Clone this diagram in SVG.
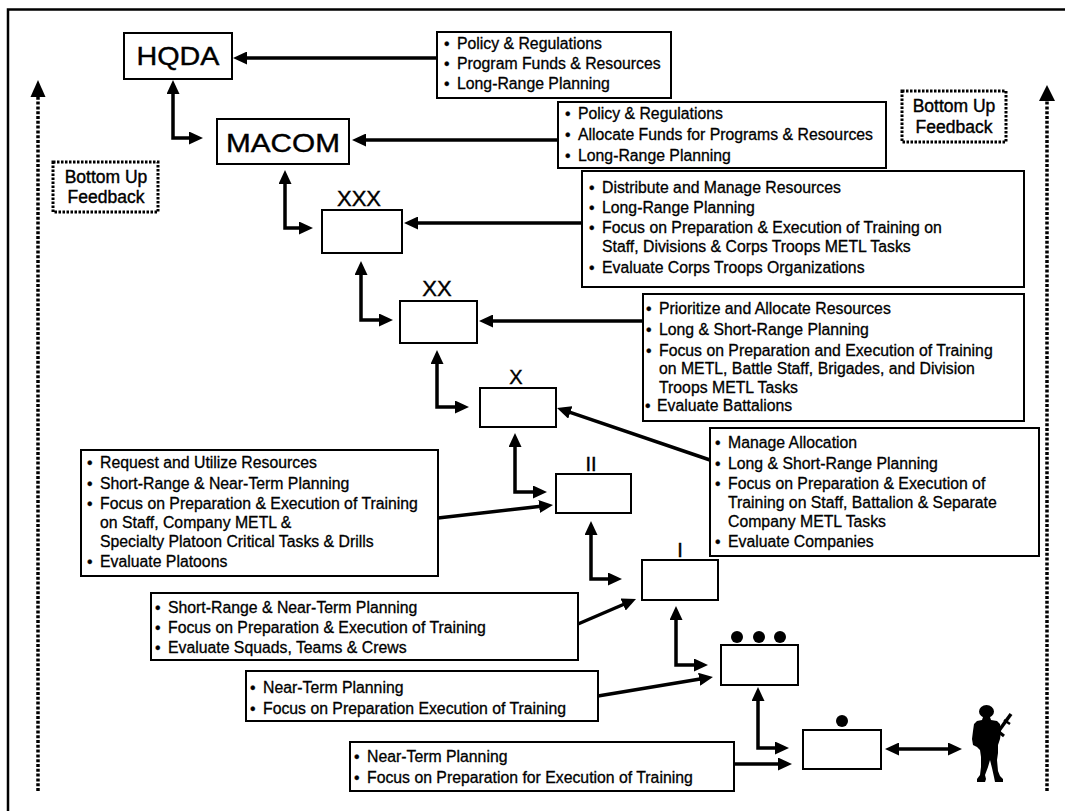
<svg xmlns="http://www.w3.org/2000/svg" width="1065" height="811" viewBox="0 0 1065 811">
<style>
.box{fill:#fff;stroke:#000;stroke-width:2}
.t{font-family:"Liberation Sans",Arial,Helvetica,sans-serif;font-size:15.8px;fill:#000;stroke:#000;stroke-width:0.3px}
.lbl{font-family:"Liberation Sans",Arial,Helvetica,sans-serif;fill:#000;text-anchor:middle;stroke:#000;stroke-width:0.4px}
.conn{fill:none;stroke:#000;stroke-width:3.5}
.fb{fill:#fff;stroke:#000;stroke-width:3;stroke-dasharray:2.5 1.5}
.fbl{fill:none;stroke:#000;stroke-width:3.5;stroke-dasharray:3 1.8}
</style>
<defs>
<marker id="ah" viewBox="0 0 14 13" markerWidth="14" markerHeight="13" refX="4" refY="6.5" orient="auto-start-reverse" markerUnits="userSpaceOnUse">
<path d="M0,0 L14,6.5 L0,13 Z" fill="#000"/>
</marker>
</defs>
<rect x="0" y="0" width="1065" height="811" fill="#fff"/>
<polyline points="8,811 8,9.5 1065,9.5" fill="none" stroke="#000" stroke-width="2.5"/>

<g id="feedback-left">
<line class="fbl" x1="38" y1="791" x2="38" y2="95"/>
<path d="M38,80 L45.5,97 L30.5,97 Z" fill="#000"/>
<rect class="fb" x="53" y="162" width="105" height="50"/>
<text class="lbl" font-size="17.5" x="106" y="183">Bottom Up</text>
<text class="lbl" font-size="17.5" x="106" y="203">Feedback</text>
</g>
<g id="feedback-right">
<line class="fbl" x1="1047" y1="791" x2="1047" y2="99"/>
<path d="M1047,85 L1055,101 L1039,101 Z" fill="#000"/>
<rect class="fb" x="902" y="91" width="104" height="51"/>
<text class="lbl" font-size="17.5" x="954" y="112">Bottom Up</text>
<text class="lbl" font-size="17.5" x="954" y="133">Feedback</text>
</g>

<g id="connectors">
<line class="conn" x1="437" y1="58" x2="243" y2="58" marker-end="url(#ah)"/>
<line class="conn" x1="558" y1="140" x2="362" y2="140" marker-end="url(#ah)"/>
<line class="conn" x1="582" y1="223" x2="414" y2="223" marker-end="url(#ah)"/>
<line class="conn" x1="643" y1="321" x2="489" y2="321" marker-end="url(#ah)"/>
<line class="conn" x1="710" y1="460" x2="566.5" y2="411.2" marker-end="url(#ah)"/>
<line class="conn" x1="438" y1="518" x2="543.1" y2="506.1" marker-end="url(#ah)"/>
<line class="conn" x1="578" y1="624" x2="626.8" y2="603" marker-end="url(#ah)"/>
<line class="conn" x1="598" y1="696" x2="703.1" y2="678.6" marker-end="url(#ah)"/>
<line class="conn" x1="734" y1="764" x2="782" y2="764" marker-end="url(#ah)"/>
<polyline class="conn" points="173,90 173,138 193,138" marker-start="url(#ah)" marker-end="url(#ah)"/>
<polyline class="conn" points="285,180 285,228 303,228" marker-start="url(#ah)" marker-end="url(#ah)"/>
<polyline class="conn" points="361,271 361,320 383,320" marker-start="url(#ah)" marker-end="url(#ah)"/>
<polyline class="conn" points="437,360 437,407 459,407" marker-start="url(#ah)" marker-end="url(#ah)"/>
<polyline class="conn" points="515,443 515,492 537,492" marker-start="url(#ah)" marker-end="url(#ah)"/>
<polyline class="conn" points="591,531 591,579 612,579" marker-start="url(#ah)" marker-end="url(#ah)"/>
<polyline class="conn" points="676,616 676,665 698,665" marker-start="url(#ah)" marker-end="url(#ah)"/>
<polyline class="conn" points="758,697 758,748 779,748" marker-start="url(#ah)" marker-end="url(#ah)"/>
<line class="conn" x1="895" y1="749" x2="952" y2="749" marker-start="url(#ah)" marker-end="url(#ah)"/>
</g>

<g id="n-hqda">
<rect class="box" x="124" y="33" width="108" height="46"/>
<text class="lbl" font-size="26" x="178" y="65" textLength="83" lengthAdjust="spacingAndGlyphs">HQDA</text>
</g>
<g id="n-macom">
<rect class="box" x="217" y="119" width="132" height="45"/>
<text class="lbl" font-size="26" x="283" y="152" textLength="114" lengthAdjust="spacingAndGlyphs">MACOM</text>
</g>
<g id="n-corps">
<rect class="box" x="322" y="210" width="80" height="43"/>
<text class="lbl" font-size="22" x="359" y="206">XXX</text>
</g>
<g id="n-division">
<rect class="box" x="400" y="301" width="77" height="42"/>
<text class="lbl" font-size="22" x="437" y="296">XX</text>
</g>
<g id="n-brigade">
<rect class="box" x="480" y="388" width="76" height="39"/>
<text class="lbl" font-size="20" x="516" y="384">X</text>
</g>
<g id="n-battalion">
<rect class="box" x="556" y="474" width="75" height="39"/>
<text class="lbl" font-size="20" x="591" y="471">II</text>
</g>
<g id="n-company">
<rect class="box" x="642" y="560" width="76" height="40"/>
<text class="lbl" font-size="20" x="680" y="557">I</text>
</g>
<g id="n-platoon">
<rect class="box" x="721" y="645" width="77" height="40"/>
<circle cx="737" cy="637" r="6"/>
<circle cx="759" cy="637" r="6"/>
<circle cx="780" cy="637" r="6"/>
</g>
<g id="n-squad">
<rect class="box" x="803" y="730" width="78" height="39"/>
<circle cx="842" cy="721" r="6"/>
</g>
<g id="n-soldier" transform="translate(970,705)">
<ellipse cx="16.5" cy="6.5" rx="7.5" ry="6.5"/>
<path d="M13,12 L20,12 L21,15 L27,16 L30,19 L31,27 L30,34 L28,40 L28,48 L27,55 L28,66 L30,71 L33,74 L33,77 L25,77 L24,72 L22,63 L20,55 L18,62 L15,70 L16,74 L15,77 L7,77 L7,74 L10,70 L11,62 L11,52 L10,45 L7,42 L3,40 L2,34 L3,26 L4,19 L7,16 L12,15 Z"/>
<line x1="20" y1="38" x2="41" y2="9" stroke="#000" stroke-width="3.5"/>
<line x1="34" y1="15" x2="40" y2="19" stroke="#000" stroke-width="2.5"/>
<line x1="29" y1="27" x2="34" y2="31" stroke="#000" stroke-width="3"/>
</g>

<g id="b-hqda">
<rect class="box" x="437" y="32" width="234" height="66"/>
<text class="t"><tspan x="444" y="49">•</tspan><tspan x="457">Policy &amp; Regulations</tspan><tspan x="444" y="69">•</tspan><tspan x="457">Program Funds &amp; Resources</tspan><tspan x="444" y="89">•</tspan><tspan x="457">Long-Range Planning</tspan></text>
</g>
<g id="b-macom">
<rect class="box" x="558" y="102" width="328" height="66"/>
<text class="t"><tspan x="565" y="119">•</tspan><tspan x="578">Policy &amp; Regulations</tspan><tspan x="565" y="140">•</tspan><tspan x="578">Allocate Funds for Programs &amp; Resources</tspan><tspan x="565" y="161">•</tspan><tspan x="578">Long-Range Planning</tspan></text>
</g>
<g id="b-corps">
<rect class="box" x="582" y="171" width="442" height="116"/>
<text class="t"><tspan x="589" y="193">•</tspan><tspan x="602">Distribute and Manage Resources</tspan><tspan x="589" y="213">•</tspan><tspan x="602">Long-Range Planning</tspan><tspan x="589" y="233">•</tspan><tspan x="602">Focus on Preparation &amp; Execution of Training on</tspan><tspan x="602" y="252">Staff, Divisions &amp; Corps Troops METL Tasks</tspan><tspan x="589" y="273">•</tspan><tspan x="602">Evaluate Corps Troops Organizations</tspan></text>
</g>
<g id="b-division">
<rect class="box" x="643" y="294" width="381" height="127"/>
<text class="t"><tspan x="646" y="314">•</tspan><tspan x="659">Prioritize and Allocate Resources</tspan><tspan x="646" y="335">•</tspan><tspan x="659">Long &amp; Short-Range Planning</tspan><tspan x="646" y="356">•</tspan><tspan x="659">Focus on Preparation and Execution of Training</tspan><tspan x="659" y="374">on METL, Battle Staff, Brigades, and Division</tspan><tspan x="659" y="393">Troops METL Tasks</tspan><tspan x="645" y="411">•</tspan><tspan x="657">Evaluate Battalions</tspan></text>
</g>
<g id="b-brigade">
<rect class="box" x="710" y="428" width="329" height="128"/>
<text class="t"><tspan x="715" y="448">•</tspan><tspan x="728">Manage Allocation</tspan><tspan x="715" y="469">•</tspan><tspan x="728">Long &amp; Short-Range Planning</tspan><tspan x="715" y="489">•</tspan><tspan x="728">Focus on Preparation &amp; Execution of</tspan><tspan x="728" y="508">Training on Staff, Battalion &amp; Separate</tspan><tspan x="728" y="527">Company METL Tasks</tspan><tspan x="715" y="547">•</tspan><tspan x="728">Evaluate Companies</tspan></text>
</g>
<g id="b-battalion">
<rect class="box" x="81" y="450" width="357" height="126"/>
<text class="t"><tspan x="87" y="468">•</tspan><tspan x="100">Request and Utilize Resources</tspan><tspan x="87" y="489">•</tspan><tspan x="100">Short-Range &amp; Near-Term Planning</tspan><tspan x="87" y="509">•</tspan><tspan x="100">Focus on Preparation &amp; Execution of Training</tspan><tspan x="100" y="528">on Staff, Company METL &amp;</tspan><tspan x="100" y="547">Specialty Platoon Critical Tasks &amp; Drills</tspan><tspan x="87" y="567">•</tspan><tspan x="100">Evaluate Platoons</tspan></text>
</g>
<g id="b-company">
<rect class="box" x="151" y="593" width="427" height="67"/>
<text class="t"><tspan x="155" y="613">•</tspan><tspan x="168">Short-Range &amp; Near-Term Planning</tspan><tspan x="155" y="633">•</tspan><tspan x="168">Focus on Preparation &amp; Execution of Training</tspan><tspan x="155" y="653">•</tspan><tspan x="168">Evaluate Squads, Teams &amp; Crews</tspan></text>
</g>
<g id="b-platoon">
<rect class="box" x="246" y="671" width="352" height="50"/>
<text class="t"><tspan x="250" y="693">•</tspan><tspan x="263">Near-Term Planning</tspan><tspan x="250" y="714">•</tspan><tspan x="263">Focus on Preparation Execution of Training</tspan></text>
</g>
<g id="b-squad">
<rect class="box" x="350" y="742" width="384" height="49"/>
<text class="t"><tspan x="354" y="762">•</tspan><tspan x="367">Near-Term Planning</tspan><tspan x="354" y="783">•</tspan><tspan x="367">Focus on Preparation for Execution of Training</tspan></text>
</g>
</svg>
